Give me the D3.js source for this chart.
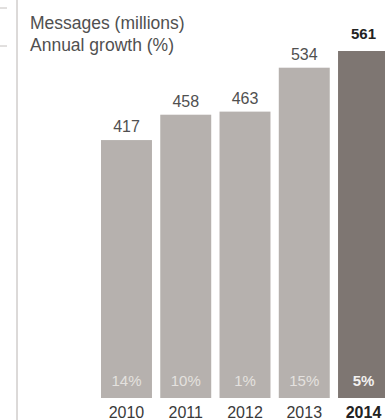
<!DOCTYPE html>
<html>
<head>
<meta charset="utf-8">
<script src="https://cdn.jsdelivr.net/npm/d3@7"></script>
<style>
  body { margin: 0; background: #fff; }
  svg { display: block; font-family: "Liberation Sans", Arial, sans-serif; }
</style>
</head>
<body>
<div id="canvas"></div>
<script>
"use strict"

let svgWidth = 385;
let svgHeight = 420;

// data
let years = ["2010", "2011", "2012", "2013", "2014"];
let messages = [417, 458, 463, 534, 561];
let growth = ["14%", "10%", "1%", "15%", "5%"];

let svg = d3.select("#canvas")
    .append("svg")
    .attr("width", svgWidth)
    .attr("height", svgHeight);

/* left rule and small marks */
svg.append("line")
    .attr("x1", 17).attr("x2", 17)
    .attr("y1", 0).attr("y2", svgHeight)
    .attr("stroke", "#b9b4b2")
    .attr("stroke-width", 1);

[8, 46].forEach(function (y) {
    svg.append("line")
        .attr("x1", 0).attr("x2", 7)
        .attr("y1", y).attr("y2", y)
        .attr("stroke", "#c4c0be");
});

/* titles */
svg.append("text")
    .attr("x", 30).attr("y", 29)
    .attr("font-size", 17.5)
    .attr("fill", "#505050")
    .text("Messages (millions)");

svg.append("text")
    .attr("x", 30).attr("y", 51)
    .attr("font-size", 17.5)
    .attr("fill", "#505050")
    .text("Annual growth (%)");

/* scales */
let xScale = d3.scaleBand()
    .domain(years)
    .range([101, 389])
    .paddingInner(0.14)
    .paddingOuter(0);

let yScale = d3.scaleLinear()
    .domain([0, 561])
    .range([398, 51]);

let last = years.length - 1;

svg.selectAll("rect.bar")
    .data(years)
    .join("rect")
    .attr("class", "bar")
    .attr("x", function (d) { return xScale(d); })
    .attr("width", xScale.bandwidth())
    .attr("y", function (d, i) { return yScale(messages[i]); })
    .attr("height", function (d, i) { return yScale(0) - yScale(messages[i]); })
    .attr("fill", function (d, i) { return i == last ? "#7e7672" : "#b6b1ae"; });

/* value labels */
svg.selectAll("text.val")
    .data(years)
    .join("text")
    .attr("class", "val")
    .attr("x", function (d) { return xScale(d) + xScale.bandwidth() / 2; })
    .attr("y", function (d, i) { return yScale(messages[i]) - (i == last ? 12 : 8); })
    .attr("text-anchor", "middle")
    .attr("font-size", function (d, i) { return i == last ? 15 : 16; })
    .attr("font-weight", function (d, i) { return i == last ? "bold" : "normal"; })
    .attr("fill", function (d, i) { return i == last ? "#222" : "#505050"; })
    .text(function (d, i) { return messages[i]; });

/* growth labels inside bars */
svg.selectAll("text.growth")
    .data(years)
    .join("text")
    .attr("class", "growth")
    .attr("x", function (d) { return xScale(d) + xScale.bandwidth() / 2; })
    .attr("y", 386)
    .attr("text-anchor", "middle")
    .attr("font-size", 15)
    .attr("font-weight", function (d, i) { return i == last ? "bold" : "normal"; })
    .attr("fill", function (d, i) { return i == last ? "#f2f0ef" : "#e4e1df"; })
    .text(function (d, i) { return growth[i]; });

/* year labels */
svg.selectAll("text.year")
    .data(years)
    .join("text")
    .attr("class", "year")
    .attr("x", function (d) { return xScale(d) + xScale.bandwidth() / 2; })
    .attr("y", 418)
    .attr("text-anchor", "middle")
    .attr("font-size", 16)
    .attr("font-weight", function (d, i) { return i == last ? "bold" : "normal"; })
    .attr("fill", function (d, i) { return i == last ? "#222" : "#3a3a3a"; })
    .text(function (d) { return d; });
</script>
</body>
</html>
